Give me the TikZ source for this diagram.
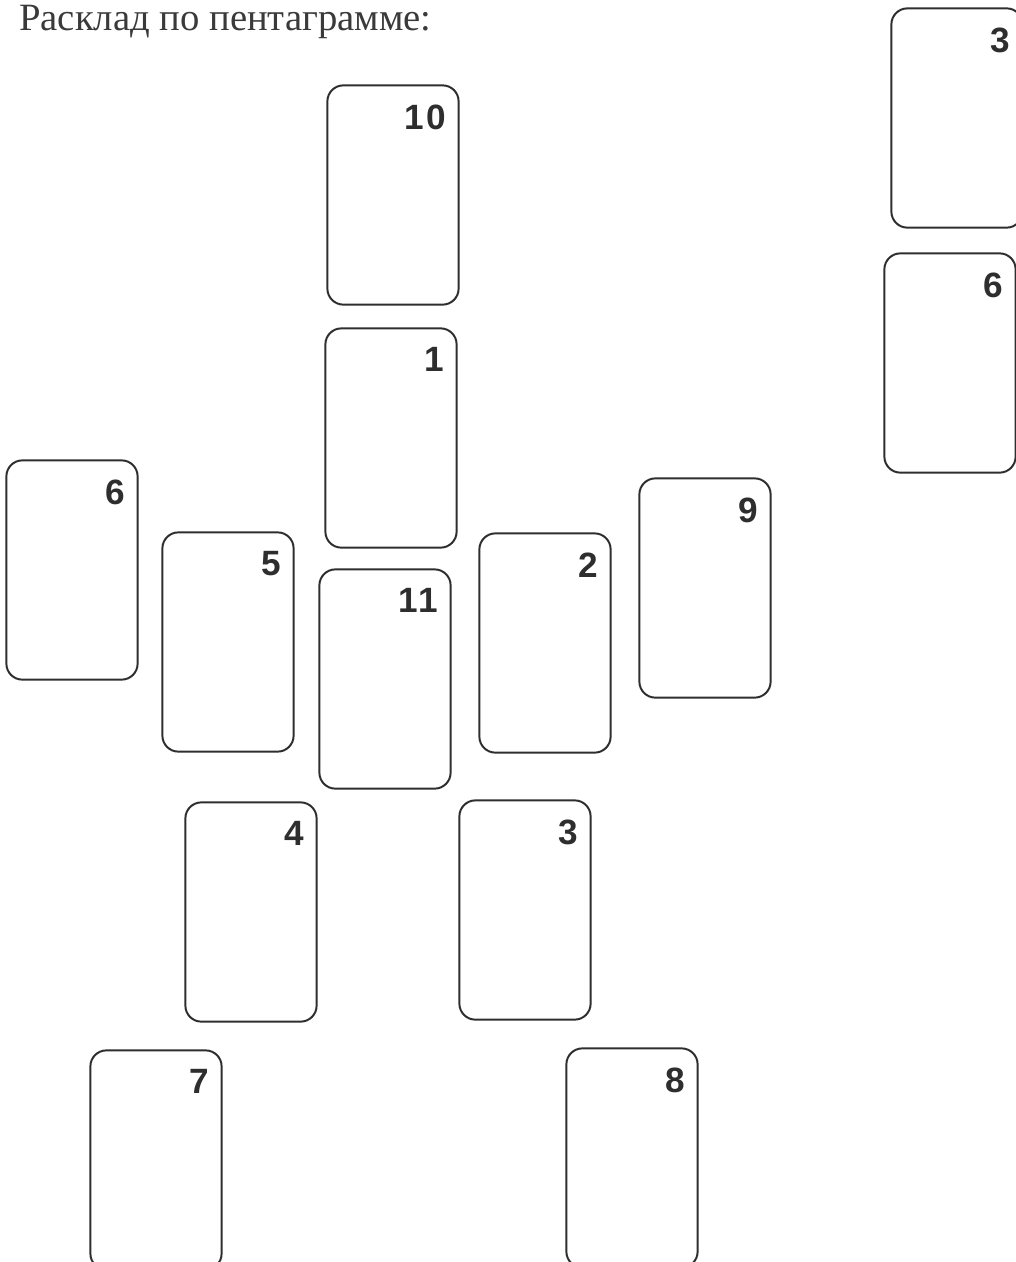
\documentclass[tikz,border=0pt]{standalone}
\usepackage{fontspec}
\setmainfont{Liberation Serif}
\newfontfamily\cardfont[LetterSpace=8]{Liberation Sans}
\usetikzlibrary{positioning}
\definecolor{cardline}{HTML}{2E2E2E}
\definecolor{titlegray}{HTML}{3A3A3A}

\begin{document}
\begin{tikzpicture}[
    x=0.025cm, y=-0.025cm,
    card/.style={
      draw=cardline, line width=1.4pt, rounded corners=0.4cm,
      minimum width=3.28cm, minimum height=5.48cm, inner sep=0pt,
    },
    num/.style={
      font=\cardfont\bfseries\fontsize{25}{25}\selectfont, text=cardline,
      inner sep=0pt, below left=0.5cm and 0.33cm of #1.north east,
    },
  ]

  % Page frame
  \useasboundingbox (0,0) rectangle (1016,1262);

  % Title
  \node[font=\fontsize{27.5}{27.5}\selectfont, text=titlegray, anchor=base west, inner sep=0pt]
    (title) at (19,31) {Расклад по пентаграмме:};

  % Spare cards on the right
  \node[card] (c3a) at (957,118) {};
  \node[num=c3a] (n3a) {3};
  \node[card] (c6a) at (950,363) {};
  \node[num=c6a] (n6a) {6};

  % Central column
  \node[card] (c10) at (393,195) {};
  \node[num=c10] (n10) {10};
  \node[card] (c1) at (391,438) {};
  \node[num=c1] (n1) {1};
  \node[card] (c11) at (385,679) {};
  \node[num=c11] (n11) {11};

  % Pentagram points
  \node[card] (c5) at (228,642) {};
  \node[num=c5] (n5) {5};
  \node[card] (c2) at (545,643) {};
  \node[num=c2] (n2) {2};
  \node[card] (c4) at (251,912) {};
  \node[num=c4] (n4) {4};
  \node[card] (c3b) at (525,910) {};
  \node[num=c3b] (n3b) {3};

  % Outer cards
  \node[card] (c6b) at (72,570) {};
  \node[num=c6b] (n6b) {6};
  \node[card] (c9) at (705,588) {};
  \node[num=c9] (n9) {9};
  \node[card] (c7) at (156,1160) {};
  \node[num=c7] (n7) {7};
  \node[card] (c8) at (632,1158) {};
  \node[num=c8] (n8) {8};

\end{tikzpicture}
\end{document}
